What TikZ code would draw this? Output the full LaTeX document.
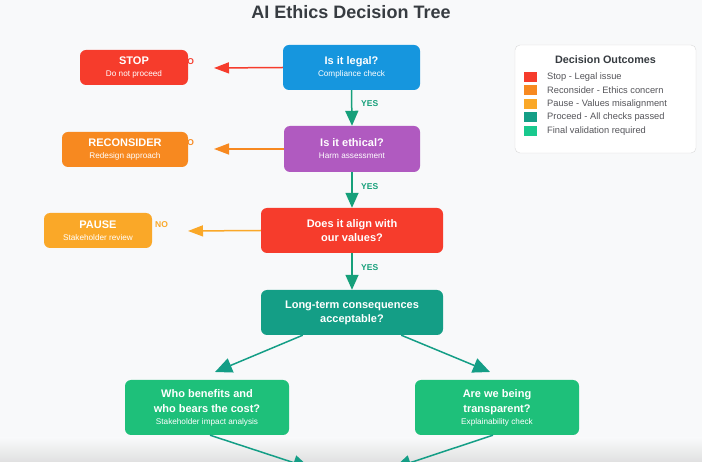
\documentclass[tikz,border=0pt]{standalone}
\usepackage{fontspec}
\setmainfont{Liberation Sans}
\usetikzlibrary{arrows.meta,calc}
\definecolor{bg}{RGB}{248,249,250}
\definecolor{cblue}{RGB}{22,150,222}
\definecolor{cred}{RGB}{246,60,44}
\definecolor{cpurple}{RGB}{176,90,192}
\definecolor{corange}{RGB}{247,137,32}
\definecolor{cyellow}{RGB}{250,168,40}
\definecolor{cteal}{RGB}{20,158,134}
\definecolor{cgreen}{RGB}{30,192,122}
\definecolor{cyes}{RGB}{22,160,122}
\definecolor{ctitle}{RGB}{55,60,65}
\definecolor{ctext}{RGB}{85,85,90}
\newcommand\bt{\fontsize{11}{14.5}\selectfont\bfseries}
\newcommand\st{\fontsize{8.2}{13}\selectfont\mdseries}
\tikzset{
  box/.style={rounded corners=6pt, text=white, align=center, inner sep=0pt},
  arr/.style={line width=1.5pt, -{Triangle[length=15pt,width=11pt]}},
  yeslbl/.style={text=cyes, font=\fontsize{8.5}{9}\selectfont\bfseries, anchor=west, inner sep=0pt},
  nolbl/.style={font=\fontsize{8.5}{9}\selectfont\bfseries, anchor=west, inner sep=0pt},
  legitem/.style={font=\fontsize{9.3}{10}\selectfont, text=ctext, anchor=west, inner sep=0pt},
  swatch/.style={minimum width=13pt, minimum height=10pt, inner sep=0pt},
}
\begin{document}
\begin{tikzpicture}[x=1pt,y=-1pt]
\useasboundingbox (0,0) rectangle (702,462);
\clip (0,0) rectangle (702,462);
\fill[bg] (0,0) rectangle (702,462);
\shade[top color=bg, bottom color=black!12] (0,438) rectangle (702,462);

% title
\node[text=ctitle, font=\fontsize{18}{21}\selectfont\bfseries] (title) at (351,12) {AI Ethics Decision Tree};

% NO labels (drawn first, partly hidden)
\node[nolbl, text=cred] (no1) at (181,62) {NO};
\node[nolbl, text=corange] (no2) at (181,143) {NO};
\node[nolbl, text=cyellow] (no3) at (155,225) {NO};

% decision boxes
\node[box, fill=cblue, minimum width=137pt, minimum height=45pt] (legal) at (351.5,67.5)
  {\bt Is it legal?\\ \st Compliance check};
\node[box, fill=cpurple, minimum width=136pt, minimum height=46pt] (ethical) at (352,149)
  {\bt Is it ethical?\\ \st Harm assessment};
\node[box, fill=cred, minimum width=182pt, minimum height=45pt] (values) at (352,230.5)
  {\bt Does it align with\\[2pt] \bt our values?};
\node[box, fill=cteal, minimum width=182pt, minimum height=45pt] (longterm) at (352,312.5)
  {\bt Long-term consequences\\[2pt] \bt acceptable?};
\node[box, fill=cgreen, minimum width=164pt, minimum height=55pt] (who) at (207,407.5)
  {\bt Who benefits and\\[3pt] \bt who bears the cost?\\ \st Stakeholder impact analysis};
\node[box, fill=cgreen, minimum width=164pt, minimum height=55pt] (transp) at (497,407.5)
  {\bt Are we being\\[3pt] \bt transparent?\\ \st Explainability check};

% outcome boxes
\node[box, fill=cred, minimum width=108pt, minimum height=35pt] (stop) at (134,67.5)
  {\bt STOP\\ \st Do not proceed};
\node[box, fill=corange, minimum width=126pt, minimum height=35pt] (recon) at (125,149.5)
  {\bt RECONSIDER\\ \st Redesign approach};
\node[box, fill=cyellow, minimum width=108pt, minimum height=35pt] (pause) at (98,230.5)
  {\bt PAUSE\\ \st Stakeholder review};

% tips of NO arrows
\coordinate (t1) at (214,68);
\coordinate (t2) at (214,149);
\coordinate (t3) at (188,231);
\draw[arr, cred] (legal.west) -- (t1);
\draw[arr, corange] (ethical.west) -- (t2);
\draw[arr, cyellow] (values.west) -- (t3);

% YES arrows
\draw[arr, cyes, -{Triangle[length=15pt,width=13pt]}] (legal.south) -- (ethical.north);
\node[yeslbl] (y1) at (361,104) {YES};
\draw[arr, cyes, -{Triangle[length=15pt,width=13pt]}] (ethical.south) -- (values.north);
\node[yeslbl] (y2) at (361,187) {YES};
\draw[arr, cyes, -{Triangle[length=15pt,width=13pt]}] (values.south) -- (longterm.north);
\node[yeslbl] (y3) at (361,268) {YES};

% branch arrows
\coordinate (b1) at (215,372);
\coordinate (b2) at (490,372);
\draw[arr, cteal, -{Triangle[length=17pt,width=15pt]}] ($(longterm.south west)!0.23!(longterm.south east)$) -- (b1);
\draw[arr, cteal, -{Triangle[length=17pt,width=15pt]}] ($(longterm.south west)!0.77!(longterm.south east)$) -- (b2);

% lower arrows leaving the picture
\coordinate (e1) at (310,468);
\coordinate (e2) at (394,468);
\draw[arr, cteal, -{Triangle[length=17pt,width=15pt]}] ([xshift=3pt]who.south) -- (e1);
\draw[arr, cteal, -{Triangle[length=17pt,width=15pt]}] ([xshift=-4pt]transp.south) -- (e2);

% legend
\node[draw=black!15, fill=white, rounded corners=5pt, minimum width=181pt, minimum height=108pt, inner sep=0pt] (legend) at (605.5,99) {};
\node[font=\fontsize{10.8}{12}\selectfont\bfseries, text=ctitle] (legtitle) at (605.5,60) {Decision Outcomes};
\node[swatch, fill=cred] (s1) at (530.5,77) {};
\node[swatch, fill=corange] (s2) at (530.5,90.5) {};
\node[swatch, fill=cyellow] (s3) at (530.5,104) {};
\node[swatch, fill=cteal] (s4) at (530.5,117.5) {};
\node[swatch, fill=cgreen!85!cyan] (s5) at (530.5,131) {};
\node[legitem] (l1) at (547,77) {Stop - Legal issue};
\node[legitem] (l2) at (547,90.5) {Reconsider - Ethics concern};
\node[legitem] (l3) at (547,104) {Pause - Values misalignment};
\node[legitem] (l4) at (547,117.5) {Proceed - All checks passed};
\node[legitem] (l5) at (547,131) {Final validation required};
\end{tikzpicture}
\end{document}
